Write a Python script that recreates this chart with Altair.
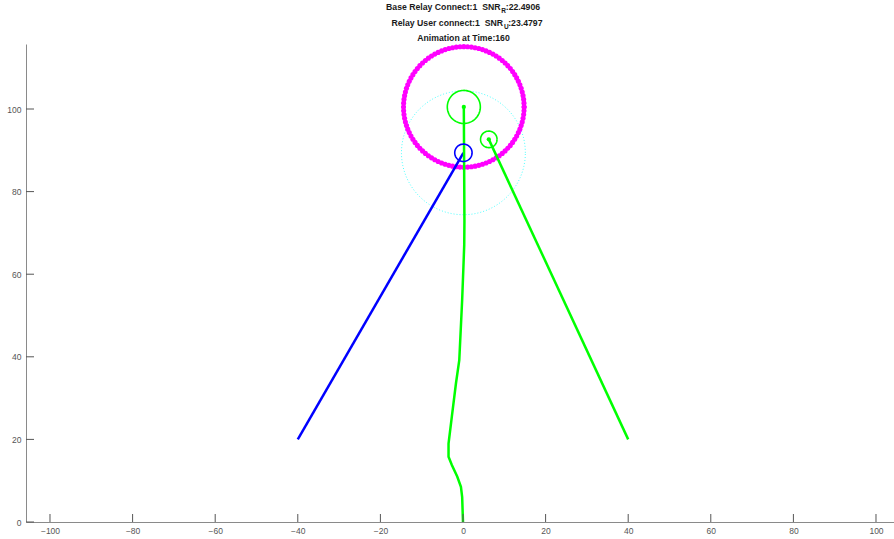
import altair as alt
import numpy as np
import pandas as pd

# ---------------- data ----------------
x_ticks = [-100, -80, -60, -40, -20, 0, 20, 40, 60, 80, 100]
y_ticks = [0, 20, 40, 60, 80, 100]

base_center = (0.2, 100.5)      # base station (magenta ring + big green circle)
base_ring_r = 14.6
base_green_r = 4.0
relay_center = (0.1, 89.4)      # relay (blue circle + cyan dotted circle)
relay_blue_r = 2.1
relay_cyan_r = 15.0
user_center = (6.25, 92.65)     # user (small green circle)
user_r = 2.0

blue_x = [-40.0, 0.1]
blue_y = [20.0, 89.4]
green_r_x = [40.0, 6.25]
green_r_y = [20.0, 92.65]
green_c_x = [0.0, -0.1, -0.2, -0.5, -1.4, -2.7, -3.5, -3.5, -2.7, -1.7, -0.9, -0.2, 0.1, 0.3, 0.35, 0.2]
green_c_y = [0.0, 3.0, 6.0, 8.5, 11.0, 13.8, 15.8, 19.0, 25.5, 33.6, 39.2, 53.8, 61.7, 67.1, 73.0, 100.5]

NB = "\u00a0"
title1_a, title1_sub, title1_b = "Base Relay Connect:1" + NB + NB + "SNR", "R", ":22.4906"
title2_a, title2_sub, title2_b = "Relay User connect:1" + NB + NB + "SNR", "U", ":23.4797"
title3 = "Animation at Time:160"

# ---------------- layout ----------------
W, H = 868, 478
x_dom = [-105.81, 104.36]
y_dom = [0, 115.74]
FONT = "Liberation Sans"

xs = alt.Scale(domain=x_dom, nice=False, zero=False)
ys = alt.Scale(domain=y_dom, nice=False, zero=False)

x_axis = alt.Axis(values=x_ticks, tickSize=0, labelPadding=4, grid=False, title=None,
                  domainColor="#8a8a8a", labelColor="#555555", labelFontSize=8.5,
                  labelFont=FONT, labelFlush=False)
y_axis = alt.Axis(values=y_ticks, tickSize=0, labelPadding=5, grid=False, title=None,
                  domainColor="#8a8a8a", labelColor="#555555", labelFontSize=8.5,
                  labelFont=FONT, labelFlush=False)

X = lambda f="x": alt.X(f + ":Q", scale=xs, axis=x_axis)
Y = lambda f="y": alt.Y(f + ":Q", scale=ys, axis=y_axis)


def ring(center, r, n):
    t = np.linspace(0, 2 * np.pi, n)
    return pd.DataFrame({"x": center[0] + r * np.cos(t),
                         "y": center[1] + r * np.sin(t),
                         "i": np.arange(n)})


def path(xv, yv):
    return pd.DataFrame({"x": xv, "y": yv, "i": range(len(xv))})


def line_layer(df, color, width, dash=None, opacity=1.0):
    kw = dict(color=color, strokeWidth=width, clip=False, opacity=opacity)
    if dash:
        kw["strokeDash"] = dash
    return alt.Chart(df).mark_line(**kw).encode(x=X(), y=Y(), order="i:Q")


cyan = line_layer(ring(relay_center, relay_cyan_r, 200), "#00ffff", 1, dash=[1, 2], opacity=0.7)

magenta = alt.Chart(ring(base_center, base_ring_r, 101)).mark_circle(
    color="#ff00ff", size=26, opacity=1, clip=False
).encode(x=X(), y=Y())

blue_line = line_layer(path(blue_x, blue_y), "#0000ff", 2.5)
green_right = line_layer(path(green_r_x, green_r_y), "#00ff00", 2.5)
green_center = line_layer(path(green_c_x, green_c_y), "#00ff00", 2.5)

green_big = line_layer(ring(base_center, base_green_r, 90), "#00ff00", 1.6)
green_small = line_layer(ring(user_center, user_r, 60), "#00ff00", 1.6)
blue_small = line_layer(ring(relay_center, relay_blue_r, 60), "#0000ff", 1.6)

dots = alt.Chart(pd.DataFrame({"x": [base_center[0], user_center[0]],
                               "y": [base_center[1], user_center[1]]})).mark_circle(
    color="#00ff00", size=18, opacity=1
).encode(x=X(), y=Y())

# inward ticks (MATLAB style)
xt = alt.Chart(pd.DataFrame({"v": x_ticks})).mark_rule(color="#555555", strokeWidth=1).encode(
    x=X("v"), y=alt.value(H), y2=alt.value(H - 8))
yt = alt.Chart(pd.DataFrame({"v": y_ticks})).mark_rule(color="#555555", strokeWidth=1).encode(
    y=Y("v"), x=alt.value(0), x2=alt.value(8))


def txt(s, x, y, align, size=8.7):
    return alt.Chart(pd.DataFrame({"t": [s]})).mark_text(
        align=align, baseline="alphabetic", font=FONT, fontSize=size,
        fontWeight="bold", color="#1a1a1a"
    ).encode(text="t:N", x=alt.value(x), y=alt.value(y))


titles = [
    txt(title1_a, 474.5, -34, "right"),
    txt(title1_sub, 475.2, -31.5, "left", 6.5),
    txt(title1_b, 479.8, -34, "left"),
    txt(title2_a, 477.0, -18, "right"),
    txt(title2_sub, 478.0, -15.5, "left", 6.5),
    txt(title2_b, 482.2, -18, "left"),
    txt(title3, 437.5, -3.3, "center"),
]

chart = alt.layer(
    cyan, magenta, blue_line, green_right, green_center,
    green_big, green_small, blue_small, dots, xt, yt, *titles
).properties(
    width=W, height=H,
    padding={"left": 26, "top": 44, "right": 0, "bottom": 17},
    autosize="none",
    background="white",
).configure_view(stroke=None)

chart.save("out.html", embed_options={"renderer": "svg", "actions": False})
